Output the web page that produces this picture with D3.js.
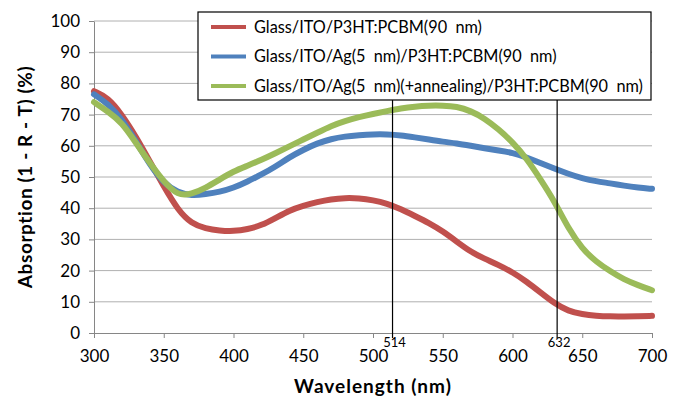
<!DOCTYPE html>
<html>
<head>
<meta charset="utf-8">
<script src="https://cdn.jsdelivr.net/npm/d3@7"></script>
<style>
  body { margin: 0; background: #fff; }
  svg { display: block; font-family: Lato, "Open Sans", sans-serif; }
</style>
</head>
<body>
<svg></svg>
<script>
const width = 681;
const height = 397;
const margin = { top: 21, right: 29, bottom: 64, left: 94 };

// wavelength (nm), every 10 nm
const wavelengths = d3.range(300, 701, 10);

const seriesNames = [
    'Glass/ITO/P3HT:PCBM(90  nm)',
    'Glass/ITO/Ag(5  nm)/P3HT:PCBM(90  nm)',
    'Glass/ITO/Ag(5  nm)(+annealing)/P3HT:PCBM(90  nm)'
];

const absorptionRef = [77.5, 75.5, 70, 63, 55, 47, 39.5, 35, 33.5, 32.8, 32.6, 33.2, 34.5, 36.8, 39.3, 40.8, 42, 42.9, 43.3, 43.2,
    42.6, 41.5, 39.7, 37.5, 35.3, 32.6, 29.3, 26, 23.8, 21.8, 19.5, 16.5, 13, 9.5, 7, 6, 5.5, 5.3, 5.3, 5.4, 5.5];

const absorptionAg = [76.5, 73.5, 68.5, 61.5, 54, 48, 45, 44, 44.5, 45.2, 46.5, 48.5, 50.8, 53.3, 56.3, 58.7, 60.8, 62.2, 63, 63.4,
    63.7, 63.7, 63.4, 62.7, 62, 61.3, 60.8, 60, 59.2, 58.5, 57.8, 56.3, 54.5, 52.7, 51, 49.6, 48.6, 48, 47.2, 46.6, 46.2];

const absorptionAnneal = [74, 71, 67.5, 61, 54.5, 48.5, 44, 44.5, 46.5, 49.2, 51.8, 53.6, 55.5, 57.6, 59.8, 62, 64.2, 66.4, 68, 69.2,
    70.2, 71.1, 72, 72.6, 72.9, 72.9, 72.6, 71.2, 68.8, 65.3, 61.2, 56, 49.3, 42.3, 33.5, 27, 22.8, 19.8, 17.1, 15.3, 13.7];

const markers = [514, 632];

const xTicks = d3.range(300, 701, 50);
const yTicks = d3.range(0, 101, 10);

const colors = ['#C0504D', '#4F81BD', '#9BBB59'];

const series = [absorptionRef, absorptionAg, absorptionAnneal].map((vals, i) => ({
    name: seriesNames[i],
    color: colors[i],
    points: wavelengths.map((w, j) => ({ x: w, y: vals[j] }))
}));

const svg = d3.select('svg')
    .attr('width', width)
    .attr('height', height);

const x = d3.scaleLinear()
    .domain([300, 700])
    .range([margin.left, width - margin.right]);

const y = d3.scaleLinear()
    .domain([0, 100])
    .range([height - margin.bottom, margin.top]);

// horizontal gridlines
svg.append('g')
    .selectAll('line')
    .data(yTicks.filter(d => d > 0))
    .enter().append('line')
    .attr('x1', x(300))
    .attr('x2', x(700))
    .attr('y1', d => y(d))
    .attr('y2', d => y(d))
    .attr('stroke', '#b0b0b0')
    .attr('stroke-width', 1);

// axes
const xAxis = svg.append('g')
    .attr('transform', `translate(0, ${y(0)})`)
    .call(d3.axisBottom(x).tickValues(xTicks).tickSize(5).tickPadding(12).tickSizeOuter(0));

const yAxis = svg.append('g')
    .attr('transform', `translate(${x(300)}, 0)`)
    .call(d3.axisLeft(y).tickValues(yTicks).tickSize(5).tickPadding(9).tickSizeOuter(0));

[xAxis, yAxis].forEach(ax => {
    ax.select('.domain').attr('stroke', '#868686');
    ax.selectAll('.tick line').attr('stroke', '#868686');
    ax.selectAll('.tick text')
        .style('font-size', '17px')
        .style('font-family', 'Lato, sans-serif')
        .attr('fill', '#000');
});

// data lines
const line = d3.line()
    .x(d => x(d.x))
    .y(d => y(d.y))
    .curve(d3.curveBasis);

svg.append('g')
    .selectAll('path')
    .data(series)
    .enter().append('path')
    .attr('d', d => line(d.points))
    .attr('fill', 'none')
    .attr('stroke', d => d.color)
    .attr('stroke-width', 6)
    .attr('stroke-linecap', 'round')
    .attr('stroke-linejoin', 'round');

// marker lines at 514 and 632 nm
svg.append('g')
    .selectAll('line')
    .data(markers)
    .enter().append('line')
    .attr('x1', d => x(d))
    .attr('x2', d => x(d))
    .attr('y1', y(100))
    .attr('y2', y(0) + 5)
    .attr('stroke', '#000')
    .attr('stroke-width', 1.2);

svg.append('g')
    .selectAll('text')
    .data(markers)
    .enter().append('text')
    .attr('x', d => x(d) + 2)
    .attr('y', y(0) + 14)
    .attr('text-anchor', 'middle')
    .style('font-size', '13px')
    .text(d => d);

// legend
const legend = svg.append('g')
    .attr('transform', 'translate(198, 12)');

legend.append('rect')
    .attr('x', 0)
    .attr('y', 0)
    .attr('width', 453)
    .attr('height', 88)
    .attr('fill', '#fff')
    .attr('stroke', '#000')
    .attr('stroke-width', 1.2);

const legendItems = legend.selectAll('.legend-item')
    .data(series)
    .enter().append('g')
    .attr('class', 'legend-item')
    .attr('transform', (d, i) => `translate(0, ${15 + i * 29.5})`);

legendItems.append('line')
    .attr('x1', 13)
    .attr('x2', 48)
    .attr('stroke', d => d.color)
    .attr('stroke-width', 4);

legendItems.append('text')
    .attr('x', 56)
    .attr('dy', '0.35em')
    .style('font-size', '16.3px')
    .style('white-space', 'pre')
    .text(d => d.name);

// axis titles
svg.append('text')
    .attr('x', (x(300) + x(700)) / 2)
    .attr('y', 393)
    .attr('text-anchor', 'middle')
    .style('font-size', '19px')
    .style('font-weight', 'bold')
    .style('letter-spacing', '1px')
    .text('Wavelength (nm)');

svg.append('text')
    .attr('transform', `translate(32, ${(y(0) + y(100)) / 2}) rotate(-90)`)
    .attr('text-anchor', 'middle')
    .style('font-size', '19px')
    .style('font-weight', 'bold')
    .style('letter-spacing', '0.6px')
    .text('Absorption (1 - R - T) (%)');
</script>
</body>
</html>
